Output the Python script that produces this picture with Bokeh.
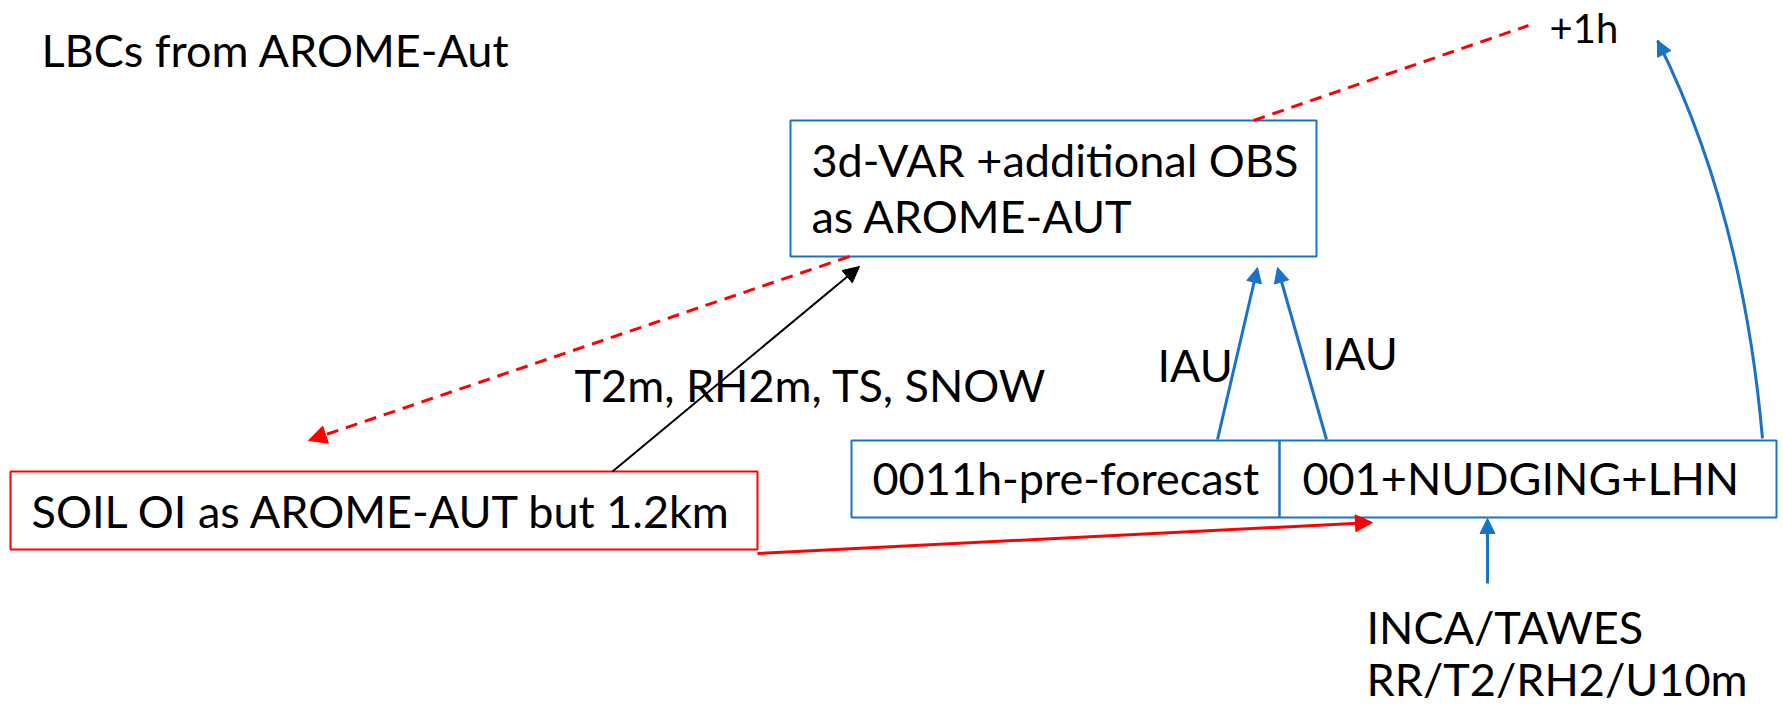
from bokeh.plotting import figure
from bokeh.models import Range1d, Arrow, NormalHead
from bokeh.core.properties import value
from bokeh.embed import file_html
from bokeh.resources import INLINE

# ---- diagram data (page pixel coordinates) ----
box_names = ["3dvar", "soil", "pre", "nudge"]
box_left = [790, 10, 851, 1279]
box_right = [1316, 757, 1279, 1776]
box_top = [120, 471, 440, 440]
box_bottom = [256, 549, 517, 517]
box_colors = ["#1B72C9", "#FF0000", "#1B72C9", "#1B72C9"]

labels = ["LBCs from AROME-Aut", "3d-VAR +additional OBS", "as AROME-AUT",
          "T2m, RH2m, TS, SNOW", "IAU", "IAU", "SOIL OI as AROME-AUT but 1.2km",
          "0011h-pre-forecast", "001+NUDGING+LHN", "INCA/TAWES", "RR/T2/RH2/U10m"]
label_x = [41, 811, 811, 574, 1157, 1322, 31, 872, 1302, 1366, 1366]
label_y = [67, 177, 233, 402, 382, 370, 528, 495, 495, 644, 696]

plus_label = ["+1h"]
plus_x = [1549]
plus_y = [43]

# blue straight arrows: (x_start, y_start, x_end, y_end)
blue_x0 = [1217, 1326, 1487]
blue_y0 = [439, 439, 583]
blue_x1 = [1257, 1277, 1487]
blue_y1 = [267, 267, 518]

# blue curved arrow (quadratic)
curve_x0, curve_y0 = 1762, 438
curve_cx, curve_cy = 1742, 210
curve_x1, curve_y1 = 1657, 40

# red dashed line to +1h
rd_x = [1253, 1528]
rd_y = [120, 25]
# red dashed arrow to soil
rda = (849, 256, 308, 440)
# red solid arrow soil -> nudging
rsa = (757, 553, 1372, 522)
# black arrow soil -> 3dvar
bka = (612, 471, 859, 266)

BLUE = "#1B72C9"
RED = "#FF0000"
FONT = "Lato"
BASELINE_SHIFT = -18  # renderer places alphabetic baseline lower than requested

W, H = 1783, 704
p = figure(width=W, height=H, x_range=Range1d(0, W), y_range=Range1d(H, 0),
           output_backend="svg", toolbar_location=None, min_border=0,
           x_axis_type=None, y_axis_type=None)
p.grid.visible = False
p.outline_line_color = None
p.background_fill_color = "white"

# boxes
p.quad(left=box_left, right=box_right, top=box_top, bottom=box_bottom,
       fill_color=None, line_color=box_colors, line_width=2)

# red dashed line
p.line(rd_x, rd_y, line_color=RED, line_width=3, line_dash="12 8")

# red dashed arrow
p.add_layout(Arrow(x_start=rda[0], y_start=rda[1], x_end=rda[2], y_end=rda[3],
                   line_color=RED, line_width=3, line_dash="12 8",
                   end=NormalHead(size=18, fill_color=RED, line_color=RED, line_width=1)))
# red solid arrow
p.add_layout(Arrow(x_start=rsa[0], y_start=rsa[1], x_end=rsa[2], y_end=rsa[3],
                   line_color=RED, line_width=3,
                   end=NormalHead(size=17, fill_color=RED, line_color=RED, line_width=1)))
# black arrow
p.add_layout(Arrow(x_start=bka[0], y_start=bka[1], x_end=bka[2], y_end=bka[3],
                   line_color="black", line_width=2,
                   end=NormalHead(size=16, fill_color="black", line_color="black", line_width=1)))
# blue arrows
for xs, ys, xe, ye in zip(blue_x0, blue_y0, blue_x1, blue_y1):
    p.add_layout(Arrow(x_start=xs, y_start=ys, x_end=xe, y_end=ye,
                       line_color=BLUE, line_width=3,
                       end=NormalHead(size=15, fill_color=BLUE, line_color=BLUE, line_width=1)))

# curved blue arrow
p.quadratic(x0=[curve_x0], y0=[curve_y0], x1=[curve_x1], y1=[curve_y1],
            cx=[curve_cx], cy=[curve_cy], line_color=BLUE, line_width=3)
tx, ty = curve_x1 - curve_cx, curve_y1 - curve_cy
p.add_layout(Arrow(x_start=curve_x1 - 0.08 * tx, y_start=curve_y1 - 0.08 * ty,
                   x_end=curve_x1, y_end=curve_y1, line_alpha=0,
                   end=NormalHead(size=15, fill_color=BLUE, line_color=BLUE, line_width=1)))

# labels
p.text(x=label_x, y=[v + BASELINE_SHIFT for v in label_y], text=labels,
       text_font=value(FONT), text_font_size=value("45px"),
       text_baseline="alphabetic", text_align="left", text_color="black")
p.text(x=plus_x, y=[v + BASELINE_SHIFT + 2 for v in plus_y], text=plus_label,
       text_font=value(FONT), text_font_size=value("40px"),
       text_baseline="alphabetic", text_align="left", text_color="black")

open("out.html", "w").write(file_html(p, INLINE))
